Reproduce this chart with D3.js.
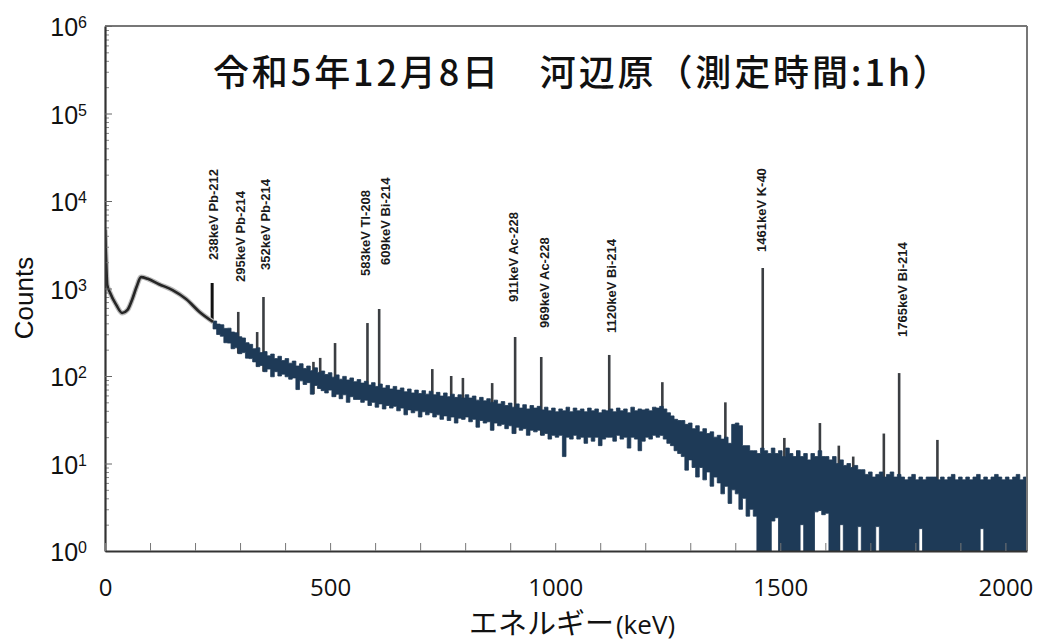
<!DOCTYPE html>
<html lang="ja">
<head>
<meta charset="utf-8">
<title>河辺原 ガンマ線スペクトル</title>
<script src="https://cdn.jsdelivr.net/npm/d3@7"></script>
<style>
  html, body { margin: 0; padding: 0; background: #fff; }
  #chart svg { display: block; }
</style>
</head>
<body>
<div id="chart"></div>
<script>
// ---- values ----
const titleText = "令和5年12月8日　河辺原（測定時間:1h）";

// low energy part (thin line), keV / counts
const lowEnergy = [0, 2, 5, 11, 25, 38, 50, 60, 70, 80, 95, 120, 150, 180, 210, 240];
const lowCounts = [4700, 2500, 1100, 900, 650, 525, 570, 740, 1040, 1350, 1290, 1120, 960, 760, 540, 415];

// noisy continuum: min / max of each 8 keV bin from 240 keV up
const binStart = 240;
const binWidth = 8;
const bandHi = [
  425, 392, 385, 350, 352, 318, 312, 281, 272, 240,
  230, 205, 210, 185, 190, 170, 178, 158, 168, 150,
  158, 140, 148, 130, 138, 122, 130, 115, 124, 110,
  114, 104, 109, 97, 103, 92, 99, 90, 95, 86,
  91, 83, 87, 79, 84, 76, 81, 73, 78, 71,
  76, 69, 73, 66, 71, 64, 69, 63, 68, 62,
  67, 61, 65, 59, 64, 58, 62, 57, 61, 56,
  61, 56, 59, 53, 57, 52, 55, 50, 53, 48,
  51, 46, 49, 44, 48, 43, 47, 42, 46, 43,
  45, 41, 44, 40, 43, 39, 42, 40, 44, 39,
  43, 40, 42, 39, 43, 40, 42, 38, 41, 40,
  42, 39, 43, 40, 42, 38, 44, 40, 42, 41,
  42, 40, 44, 43, 45, 42, 38, 35, 32, 31,
  31, 28, 29, 25, 27, 23, 25, 22, 23, 20,
  21, 19, 20, 17, 28, 29, 27, 16, 16, 14,
  14, 13, 15, 14, 13, 15, 13, 14, 12, 15,
  13, 12, 14, 12, 13, 11, 13, 12, 14, 12,
  12, 11, 12, 10, 11, 9.5, 10, 9, 9.5, 8.5,
  8.5, 7.5, 8, 7, 7.5, 8, 7, 7.5, 8, 7,
  7.5, 7, 6.5, 7, 7.5, 6.5, 7, 6.5, 7, 7,
  7, 6.5, 7, 6.5, 7, 7.5, 6.5, 7, 6.5, 7,
  6.5, 7, 7.5, 6.5, 7, 6.5, 7, 7.5, 7, 6.5,
  7, 6.5, 7, 7.5, 6.5, 7
];
const bandLo = [
  345, 298, 285, 240, 238, 205, 210, 180, 185, 160,
  158, 145, 128, 132, 112, 120, 98, 112, 100, 105,
  98, 92, 95, 70, 88, 80, 84, 62, 78, 72,
  68, 64, 69, 58, 62, 55, 61, 50, 58, 54,
  54, 50, 53, 46, 50, 44, 48, 42, 46, 43,
  45, 40, 43, 36, 41, 38, 40, 34, 39, 36,
  38, 34, 36, 32, 35, 31, 34, 29, 33, 32,
  34, 30, 32, 26, 31, 29, 30, 24, 29, 27,
  28, 25, 27, 22, 26, 24, 25, 21, 24, 23,
  24, 21, 22, 19, 21, 20, 21, 12, 20, 19,
  21, 19, 20, 17, 20, 18, 20, 16, 19, 20,
  20, 18, 21, 19, 20, 15, 20, 19, 14, 18,
  20, 19, 21, 20, 21, 19, 17, 16, 14, 13,
  12, 8.4, 11, 9, 7, 9, 6.5, 8, 5.5, 7,
  6, 4.5, 5.5, 3.5, 5, 4.5, 3, 4, 2.5, 3,
  2.5, 1, 1, 1, 1, 2.2, 2.4, 1, 1, 1,
  1, 1, 1, 2, 1, 1, 1, 2.8, 2.9, 2.6,
  2.7, 1, 1, 1, 2, 1, 1, 1, 1, 1.9,
  1, 1, 1, 1, 1.9, 1, 1, 1, 1, 1,
  1, 1, 1, 1, 1, 1, 1.8, 1, 1, 1,
  1, 1, 1, 1, 1, 1, 1, 1, 1, 1,
  1, 1, 1, 1.8, 1, 1, 1, 1, 1, 1,
  1, 1, 1, 1, 1, 1
];

// photo peaks: energy (keV) and top count
const peakEnergy = [238, 296, 338, 352, 463, 478, 511, 583, 609, 727, 769, 795, 860, 911, 969, 1120, 1238, 1378, 1461, 1509, 1538, 1588, 1630, 1662, 1730, 1764, 1849];
const peakCounts = [1155, 540, 318, 800, 145, 161, 238, 403, 583, 120, 100, 95, 83, 279, 165, 174, 85, 50, 1715, 19.6, 14, 29, 16, 12, 22, 108, 18.6];

// nuclide labels (vertical text), x in keV, text starts at labelBase counts
const labelText = ["238keV Pb-212", "295keV Pb-214", "352keV Pb-214", "583keV Tl-208", "609keV Bi-214",
                   "911keV Ac-228", "969keV Ac-228", "1120keV Bi-214", "1461keV K-40", "1765keV Bi-214"];
const labelEnergy = [242, 300, 356, 578, 622, 907, 976, 1124, 1458, 1771];
const labelBase = [2117, 1186, 1627, 1389, 1856, 701, 354, 310, 2613, 279];

const xTicks = d3.range(0, 2001, 100);
const xLabels = [0, 500, 1000, 1500, 2000];
const yDecades = [0, 1, 2, 3, 4, 5, 6];

// ---- layout ----
const width = 1040, height = 641;
const margin = {top: 26, right: 13, bottom: 90, left: 105};
const plotW = width - margin.left - margin.right;
const plotH = height - margin.top - margin.bottom;

const svg = d3.select("#chart")
    .append("svg")
    .attr("width", width)
    .attr("height", height);

const g = svg.append("g")
    .attr("transform", `translate(${margin.left}, ${margin.top})`);

const x = d3.scaleLinear().domain([0, 2048]).range([0, plotW]);
const y = d3.scaleLog().domain([1, 1e6]).range([plotH, 0]).clamp(true);

svg.append("defs").append("clipPath")
    .attr("id", "plot-clip")
    .append("rect")
    .attr("width", plotW)
    .attr("height", plotH);

const plot = g.append("g").attr("clip-path", "url(#plot-clip)");

// bins for the band
const bins = bandHi.map((h, i) => ({e: binStart + i * binWidth, hi: h, lo: bandLo[i]}));
bins.push({e: 2048, hi: bandHi[bandHi.length - 1], lo: bandLo[bandLo.length - 1]});

function baseAt(e) {
    const i = Math.floor((e - binStart) / binWidth);
    if (i < 0) return lowCounts[lowCounts.length - 1];
    return bandLo[Math.min(i, bandLo.length - 1)];
}

// peaks (drawn first, the band covers their foot)
plot.selectAll(".peak")
    .data(peakEnergy)
    .enter()
    .append("line")
    .attr("class", "peak")
    .attr("x1", d => x(d))
    .attr("x2", d => x(d))
    .attr("y1", d => y(baseAt(d)))
    .attr("y2", (d, i) => y(peakCounts[i]))
    .attr("stroke", (d, i) => i === 0 ? "#111" : "#3b3e42")
    .attr("stroke-width", (d, i) => i === 0 ? 3 : 2.6);

// noisy band
const band = d3.area()
    .x(d => x(d.e))
    .y0(d => y(d.lo))
    .y1(d => y(d.hi))
    .curve(d3.curveStepAfter);

plot.append("path")
    .datum(bins)
    .attr("d", band)
    .attr("fill", "#1e3a57")
    .attr("stroke", "#1e3a57")
    .attr("stroke-width", 0.8);

// low energy line
const lowLine = d3.line()
    .x((d, i) => x(lowEnergy[i]))
    .y(d => y(d))
    .curve(d3.curveMonotoneX);

plot.append("path")
    .datum(lowCounts)
    .attr("d", lowLine)
    .attr("fill", "none")
    .attr("stroke", "#bbb")
    .attr("stroke-width", 5);

plot.append("path")
    .datum(lowCounts)
    .attr("d", lowLine)
    .attr("fill", "none")
    .attr("stroke", "#262626")
    .attr("stroke-width", 2.6);

// ---- frame and axes ----
g.append("line")
    .attr("x1", 0).attr("x2", plotW)
    .attr("y1", 0).attr("y2", 0)
    .attr("stroke", "#777").attr("stroke-width", 2);
g.append("line")
    .attr("x1", plotW).attr("x2", plotW)
    .attr("y1", 0).attr("y2", plotH)
    .attr("stroke", "#777").attr("stroke-width", 2);

// minor y ticks
const yMinor = [];
yDecades.slice(0, -1).forEach(p => { for (let k = 2; k <= 9; k++) yMinor.push(k * Math.pow(10, p)); });

g.append("g")
    .call(d3.axisLeft(y).tickValues(yMinor).tickSize(-4).tickFormat(""))
    .call(a => a.select(".domain").remove())
    .selectAll("line").attr("stroke", "#888");

const yAxis = g.append("g")
    .call(d3.axisLeft(y).tickValues(yDecades.map(p => Math.pow(10, p))).tickSize(-7).tickSizeOuter(0).tickFormat(""));
yAxis.select(".domain").attr("stroke", "#333").attr("stroke-width", 2.2);
yAxis.selectAll("line").attr("stroke", "#666");

// y labels 10^n
const yLab = g.append("g")
    .attr("font-family", "'Liberation Sans', Arial, sans-serif")
    .attr("fill", "#111");
yDecades.forEach(p => {
    const t = yLab.append("text")
        .attr("x", -18)
        .attr("y", y(Math.pow(10, p)) + 10)
        .attr("text-anchor", "end");
    t.append("tspan").attr("font-size", 25).text("10");
    t.append("tspan").attr("font-size", 16).attr("dy", -8).text(p);
});

const xAxis = g.append("g")
    .attr("transform", `translate(0, ${plotH})`)
    .call(d3.axisBottom(x).tickValues(xTicks).tickSize(-8).tickSizeOuter(0).tickPadding(28)
        .tickFormat(d => xLabels.includes(d) ? d : ""));
xAxis.select(".domain").attr("stroke", "#333").attr("stroke-width", 2.2);
xAxis.selectAll("line").attr("stroke", "#777");
xAxis.selectAll("text")
    .attr("font-family", "'Open Sans', sans-serif")
    .attr("font-size", 24)
    .attr("fill", "#111");

// axis titles
svg.append("text")
    .attr("transform", "translate(24, 298) rotate(-90)")
    .attr("text-anchor", "middle")
    .attr("dominant-baseline", "central")
    .attr("font-family", "'Liberation Sans', Arial, sans-serif")
    .attr("font-size", 26)
    .attr("fill", "#111")
    .text("Counts");

const xTitle = svg.append("text")
    .attr("x", 572)
    .attr("y", 634)
    .attr("text-anchor", "middle")
    .attr("fill", "#111");
xTitle.append("tspan")
    .attr("font-family", "'Noto Sans CJK JP', sans-serif")
    .attr("font-size", 29)
    .text("エネルギー");
xTitle.append("tspan")
    .attr("font-family", "'Open Sans', sans-serif")
    .attr("font-size", 26)
    .attr("dx", 2)
    .text("(keV)");

// chart title
svg.append("text")
    .attr("x", 581)
    .attr("y", 86)
    .attr("text-anchor", "middle")
    .attr("font-family", "'Noto Sans CJK JP', sans-serif")
    .attr("font-size", 36)
    .attr("font-weight", 500)
    .attr("fill", "#111")
    .attr("textLength", 736)
    .attr("lengthAdjust", "spacing")
    .text(titleText);

// nuclide labels
g.selectAll(".nuclide")
    .data(labelText)
    .enter()
    .append("text")
    .attr("class", "nuclide")
    .attr("transform", (d, i) => `translate(${x(labelEnergy[i])}, ${y(labelBase[i])}) rotate(-90)`)
    .attr("dominant-baseline", "central")
    .attr("font-family", "'Liberation Sans Narrow', 'Liberation Sans', Arial, sans-serif")
    .attr("font-size", 13)
    .attr("font-weight", "bold")
    .attr("fill", "#1a1a1a")
    .text(d => d);
</script>
</body>
</html>
